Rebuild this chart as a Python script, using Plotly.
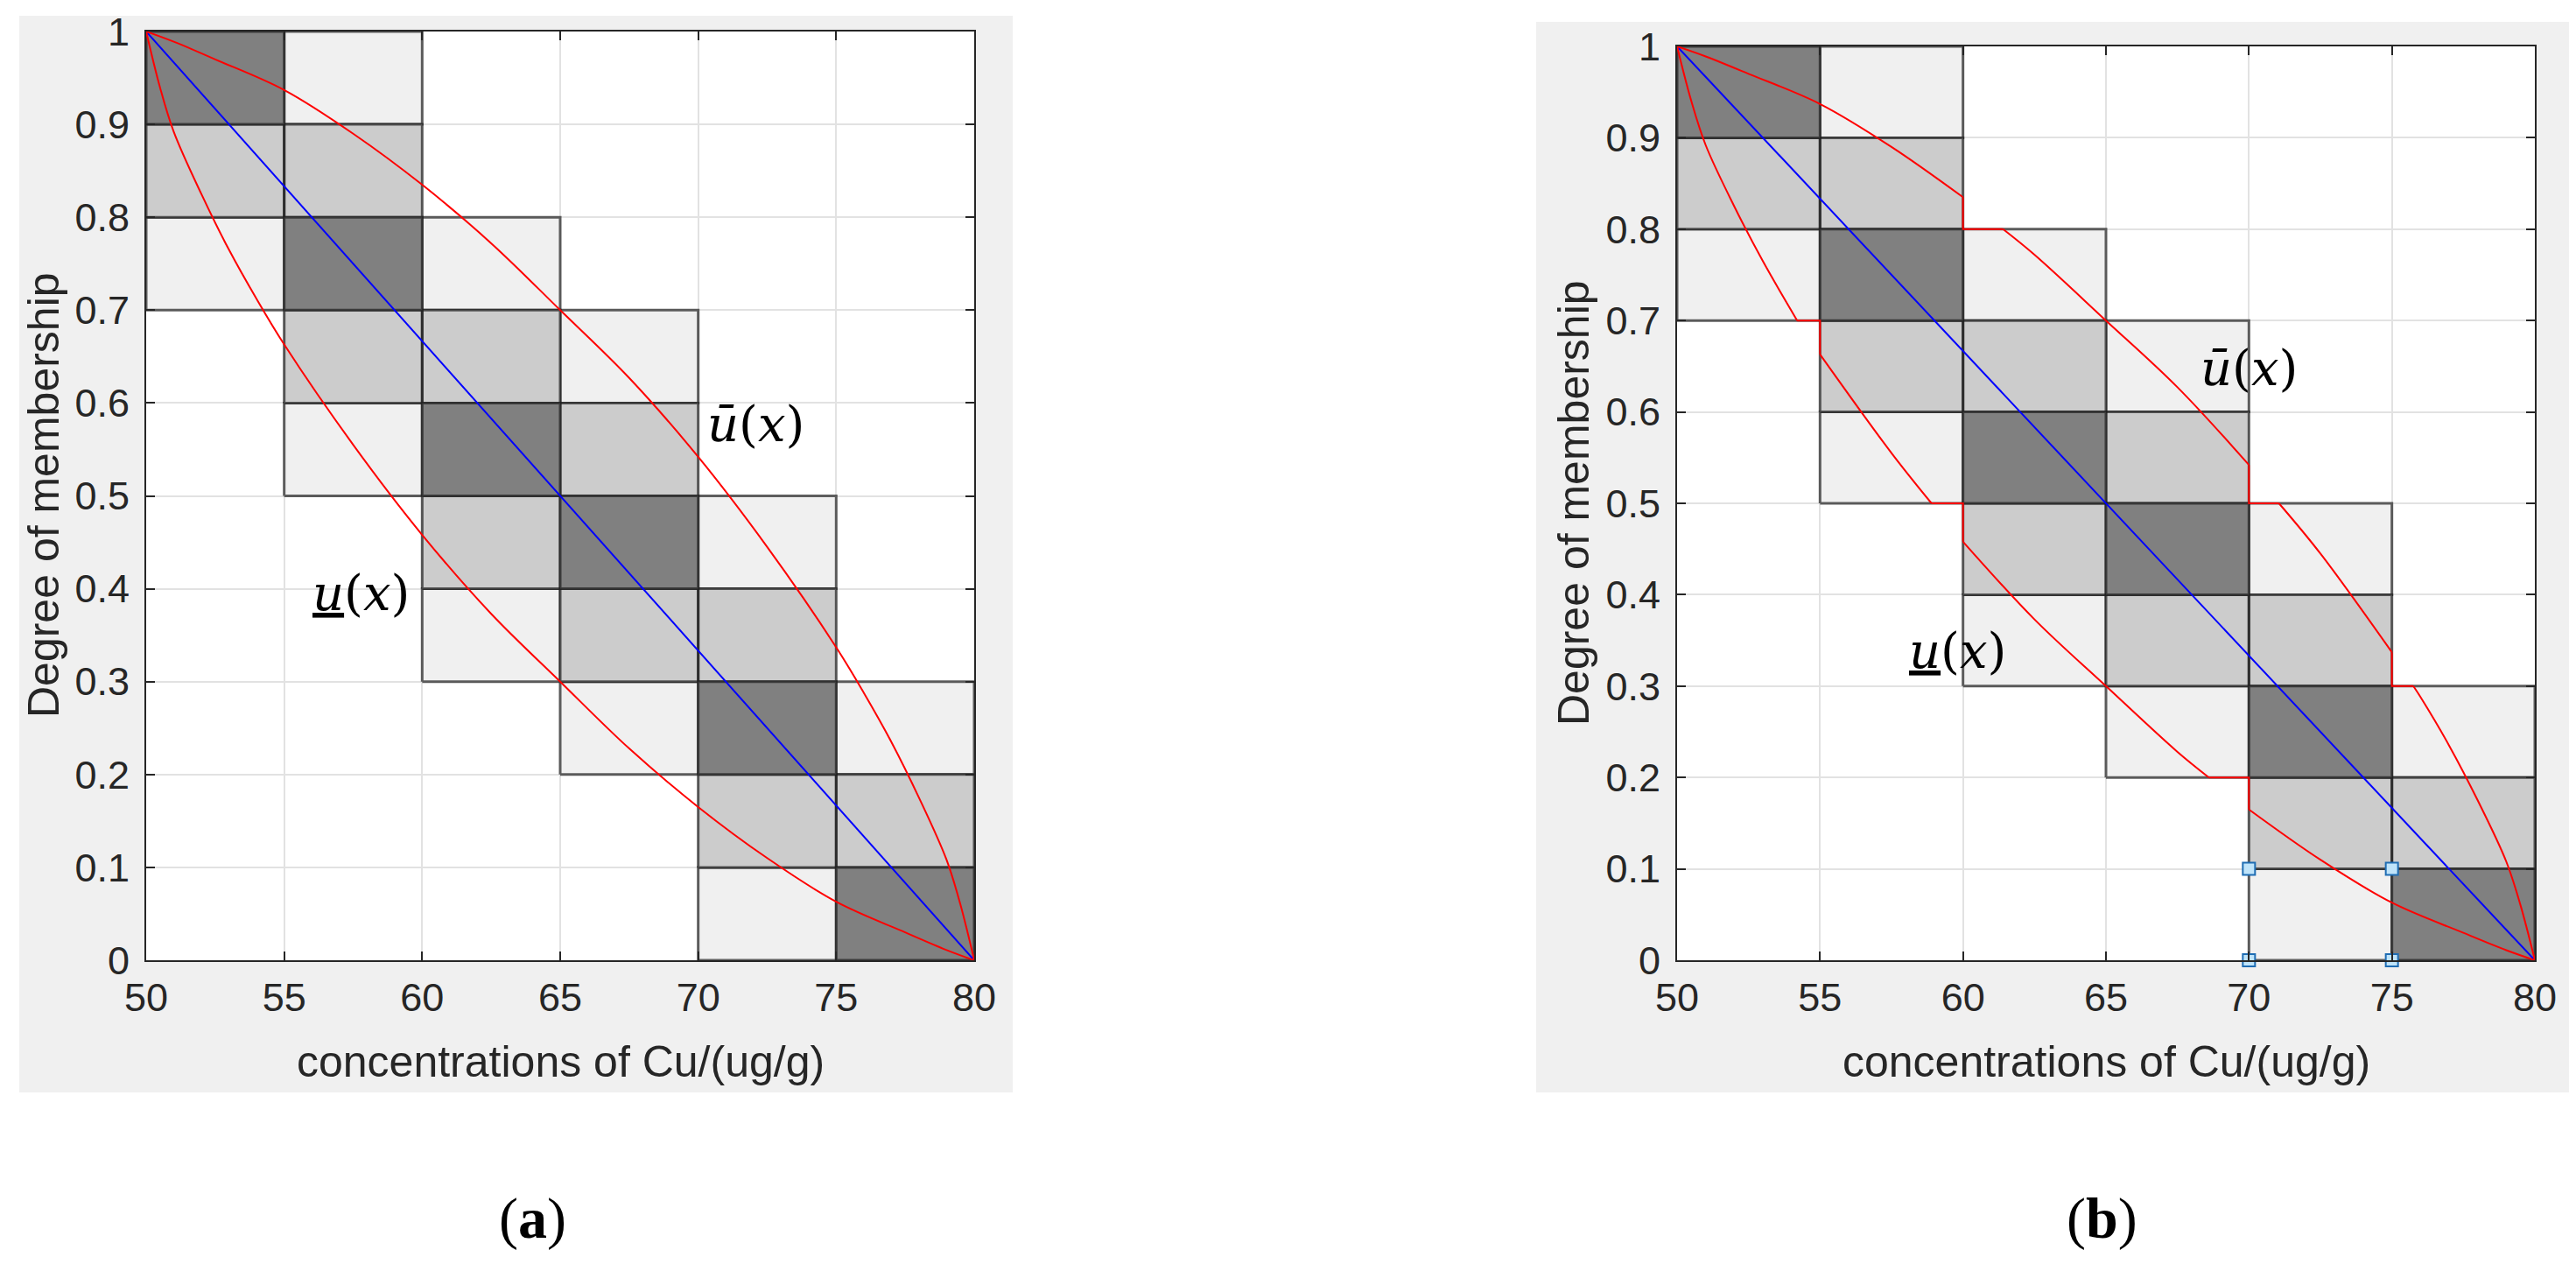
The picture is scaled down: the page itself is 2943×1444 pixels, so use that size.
import plotly.graph_objects as go

W, H = 2943, 1444

# cells of the interval type-2 grid, lower-left corners (each 5 wide, 0.1 tall)
dark_x = [50, 55, 60, 65, 70, 75]
dark_y = [0.9, 0.7, 0.5, 0.4, 0.2, 0.0]
mid_x = [50, 55, 55, 60, 60, 65, 65, 70, 70, 75]
mid_y = [0.8, 0.8, 0.6, 0.6, 0.4, 0.5, 0.3, 0.3, 0.1, 0.1]
light_x = [50, 55, 55, 60, 60, 65, 65, 70, 70, 75]
light_y = [0.7, 0.9, 0.5, 0.7, 0.3, 0.6, 0.2, 0.4, 0.0, 0.2]
cell_w = 5
cell_h = 0.1

# primary membership line
line_x = [50, 80]
line_y = [1, 0]

# (a) upper / lower membership curves
upper_x = [50, 51, 52.5, 55, 57.5, 60, 62.5, 65, 67.5, 70, 72.5, 75, 76, 77, 78, 79, 79.5, 80]
upper_y = [1.0, 0.989, 0.970, 0.937, 0.89, 0.835, 0.772, 0.70, 0.627, 0.542, 0.445, 0.337, 0.288, 0.235, 0.175, 0.108, 0.06, 0.0]
lower_x = [50, 50.5, 51, 52, 53, 54, 55, 57.5, 60, 62.5, 65, 67.5, 70, 72.5, 75, 77.5, 79, 80]
lower_y = [1.0, 0.94, 0.892, 0.825, 0.765, 0.712, 0.663, 0.555, 0.458, 0.373, 0.30, 0.228, 0.165, 0.11, 0.063, 0.03, 0.011, 0.0]

# (b) curves clipped to the cells: curved pieces and step pieces
b_upper_x = [50, 51, 52.5, 55, 57.5, 60, None, 61.4, 62.5, 65, 67.5, 70, None,
             71.05, 72.5, 75, None, 75.75, 76, 77, 78, 79, 79.5, 80]
b_upper_y = [1.0, 0.989, 0.970, 0.937, 0.89, 0.835, None, 0.8, 0.772, 0.70, 0.627, 0.542, None,
             0.5, 0.445, 0.337, None, 0.3, 0.288, 0.235, 0.175, 0.108, 0.06, 0.0]
b_upper_step_x = [60, 60, 61.4, None, 70, 70, 71.05, None, 75, 75, 75.75]
b_upper_step_y = [0.835, 0.8, 0.8, None, 0.542, 0.5, 0.5, None, 0.337, 0.3, 0.3]
b_lower_x = [50, 50.5, 51, 52, 53, 54.2, None, 55, 57.5, 58.9, None,
             60, 62.5, 65, 67.5, 68.6, None, 70, 72.5, 75, 77.5, 79, 80]
b_lower_y = [1.0, 0.94, 0.892, 0.825, 0.765, 0.7, None, 0.663, 0.555, 0.5, None,
             0.458, 0.373, 0.30, 0.228, 0.2, None, 0.165, 0.11, 0.063, 0.03, 0.011, 0.0]
b_lower_step_x = [54.2, 55, 55, None, 58.9, 60, 60, None, 68.6, 70, 70]
b_lower_step_y = [0.7, 0.7, 0.663, None, 0.5, 0.5, 0.458, None, 0.2, 0.2, 0.165]

# selected vertices shown in (b)
sel_x = [70, 75, 70, 75]
sel_y = [0.1, 0.1, 0.0, 0.0]

x_ticks = [50, 55, 60, 65, 70, 75, 80]
y_ticks = [0, 0.1, 0.2, 0.3, 0.4, 0.5, 0.6, 0.7, 0.8, 0.9, 1]
y_ticktext = ['0', '0.1', '0.2', '0.3', '0.4', '0.5', '0.6', '0.7', '0.8', '0.9', '1']

TICK_FONT = dict(family='Liberation Sans, Arial', size=45, color='#262626')
LABEL_FONT = dict(family='Liberation Sans, Arial', size=50, color='#262626')
MATH_FONT = dict(family='DejaVu Serif', size=56, color='black')
PANEL_FONT = dict(family='Liberation Serif, Times New Roman', size=66, color='black')


def cell_polys(xs, ys):
    px, py = [], []
    for x0, y0 in zip(xs, ys):
        px += [x0, x0 + cell_w, x0 + cell_w, x0, x0, None]
        py += [y0, y0, y0 + cell_h, y0 + cell_h, y0, None]
    return px, py


def add_cells(fig, xa, ya):
    for xs, ys, col in [(light_x, light_y, '#f0f0f0'),
                        (mid_x, mid_y, '#cccccc'),
                        (dark_x, dark_y, '#808080')]:
        px, py = cell_polys(xs, ys)
        fig.add_trace(go.Scatter(
            x=px, y=py, mode='lines', fill='toself', fillcolor=col,
            line=dict(color='rgba(30,30,30,0.7)', width=3),
            xaxis=xa, yaxis=ya, hoverinfo='skip', showlegend=False))
    fig.add_trace(go.Scatter(
        x=line_x, y=line_y, mode='lines', line=dict(color='#0000ff', width=2),
        xaxis=xa, yaxis=ya, showlegend=False))


fig = go.Figure()

# panel (a)
add_cells(fig, 'x', 'y')
for xs, ys in [(upper_x, upper_y), (lower_x, lower_y)]:
    fig.add_trace(go.Scatter(
        x=xs, y=ys, mode='lines', line=dict(color='#ff0000', width=2, shape='spline'),
        xaxis='x', yaxis='y', showlegend=False))

# panel (b)
add_cells(fig, 'x2', 'y2')
for xs, ys, shape in [(b_upper_x, b_upper_y, 'spline'), (b_upper_step_x, b_upper_step_y, 'linear'),
                      (b_lower_x, b_lower_y, 'spline'), (b_lower_step_x, b_lower_step_y, 'linear')]:
    fig.add_trace(go.Scatter(
        x=xs, y=ys, mode='lines', line=dict(color='#ff0000', width=2, shape=shape),
        connectgaps=False, xaxis='x2', yaxis='y2', showlegend=False))
fig.add_trace(go.Scatter(
    x=sel_x, y=sel_y, mode='markers',
    marker=dict(symbol='square', size=14, color='#bfe4fa', line=dict(color='#1f6db3', width=2)),
    xaxis='x2', yaxis='y2', showlegend=False, cliponaxis=False))

axis_common = dict(
    showgrid=True, gridcolor='#e2e2e2', gridwidth=2,
    showline=True, linecolor='#262626', linewidth=2, mirror='ticks',
    ticks='inside', ticklen=10, tickwidth=2, tickcolor='#262626',
    tickfont=TICK_FONT, zeroline=False, fixedrange=True, automargin=False,
)

ya_dom = [1 - 1089 / H, 1 - 28 / H]
yb_dom = [1 - 1089 / H, 1 - 45 / H]

fig.update_layout(
    width=W, height=H,
    margin=dict(l=0, r=0, t=0, b=0, pad=0, autoexpand=False),
    paper_bgcolor='white', plot_bgcolor='white',
    xaxis=dict(domain=[159 / W, 1105 / W], range=[50, 80], tickvals=x_ticks,
               anchor='y', ticklabelstandoff=2, **axis_common),
    yaxis=dict(domain=ya_dom, range=[0, 1], tickvals=y_ticks,
               ticktext=y_ticktext, anchor='x', ticklabelstandoff=8, **axis_common),
    xaxis2=dict(domain=[1908 / W, 2888 / W], range=[50, 80], tickvals=x_ticks,
                anchor='y2', ticklabelstandoff=2, **axis_common),
    yaxis2=dict(domain=yb_dom, range=[0, 1], tickvals=y_ticks,
                ticktext=y_ticktext, anchor='x2', ticklabelstandoff=8, **axis_common),
    shapes=[
        # grey figure windows
        dict(type='rect', xref='paper', yref='paper', layer='below',
             x0=14 / W, x1=1149 / W, y0=1 - 1240 / H, y1=1 - 10 / H,
             fillcolor='#f0f0f0', line=dict(width=0)),
        dict(type='rect', xref='paper', yref='paper', layer='below',
             x0=1747 / W, x1=2930 / W, y0=1 - 1240 / H, y1=1 - 17 / H,
             fillcolor='#f0f0f0', line=dict(width=0)),
        # white axes backgrounds
        dict(type='rect', xref='x domain', yref='y domain', layer='below',
             x0=0, x1=1, y0=0, y1=1, fillcolor='white', line=dict(width=0)),
        dict(type='rect', xref='x2 domain', yref='y2 domain', layer='below',
             x0=0, x1=1, y0=0, y1=1, fillcolor='white', line=dict(width=0)),
    ],
)


def paper_note(text, x, y, font, angle=0):
    return dict(text=text, x=x / W, y=1 - y / H, xref='paper', yref='paper',
                xanchor='center', yanchor='middle', textangle=angle,
                showarrow=False, font=font)


def data_note(text, x, y, xref, yref):
    return dict(text=text, x=x, y=y, xref=xref, yref=yref, xanchor='center',
                yanchor='middle', showarrow=False, font=MATH_FONT)


annotations = [
    paper_note('Degree of membership', 42, 558, LABEL_FONT, -90),
    paper_note('Degree of membership', 1790, 567, LABEL_FONT, -90),
    paper_note('concentrations of Cu/(ug/g)', 632, 1205, LABEL_FONT),
    paper_note('concentrations of Cu/(ug/g)', 2398, 1205, LABEL_FONT),
    paper_note('(<b>a</b>)', 600, 1384, PANEL_FONT),
    paper_note('(<b>b</b>)', 2393, 1384, PANEL_FONT),
    # membership labels
    data_note('<i>ū</i>(<i>x</i>)', 72.1, 0.577, 'x', 'y'),
    data_note('<u><i>u</i></u>(<i>x</i>)', 57.8, 0.395, 'x', 'y'),
    data_note('<i>ū</i>(<i>x</i>)', 70.0, 0.648, 'x2', 'y2'),
    data_note('<u><i>u</i></u>(<i>x</i>)', 59.8, 0.339, 'x2', 'y2'),
]
fig.update_layout(annotations=annotations)

fig.write_html("out.html")
